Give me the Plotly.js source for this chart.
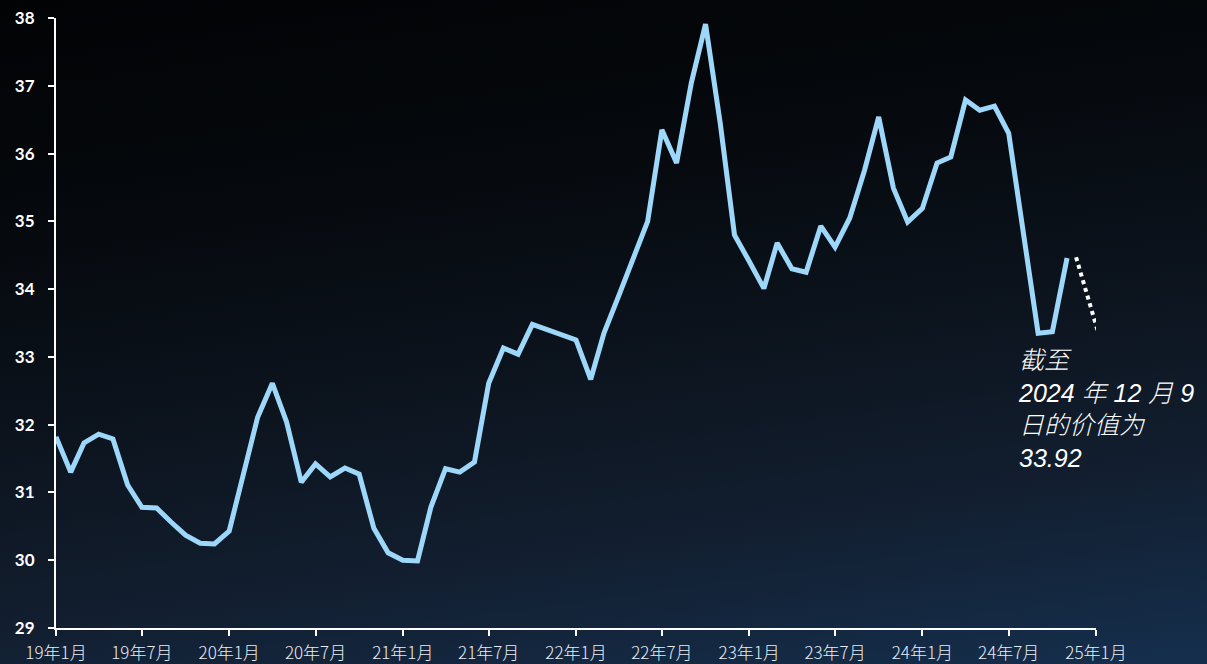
<!DOCTYPE html>
<html>
<head>
<meta charset="utf-8">
<script src="https://cdn.plot.ly/plotly-3.0.1.min.js"></script>
<style>
html, body { margin: 0; padding: 0; width: 1207px; height: 664px; overflow: hidden; }
body { background: linear-gradient(172deg, #020305 0%, #05080c 25%, #0b121b 50%, #121e2f 75%, #152f4d 100%); }
#chart { width: 1207px; height: 664px; }
</style>
</head>
<body>
<div id="chart"></div>
<script>
// Monthly values, Jan 2019 .. Nov 2024
const months = [
  '2019-01-01','2019-02-01','2019-03-01','2019-04-01','2019-05-01','2019-06-01','2019-07-01','2019-08-01','2019-09-01','2019-10-01','2019-11-01','2019-12-01',
  '2020-01-01','2020-02-01','2020-03-01','2020-04-01','2020-05-01','2020-06-01','2020-07-01','2020-08-01','2020-09-01','2020-10-01','2020-11-01','2020-12-01',
  '2021-01-01','2021-02-01','2021-03-01','2021-04-01','2021-05-01','2021-06-01','2021-07-01','2021-08-01','2021-09-01','2021-10-01','2021-11-01','2021-12-01',
  '2022-01-01','2022-02-01','2022-03-01','2022-04-01','2022-05-01','2022-06-01','2022-07-01','2022-08-01','2022-09-01','2022-10-01','2022-11-01','2022-12-01',
  '2023-01-01','2023-02-01','2023-03-01','2023-04-01','2023-05-01','2023-06-01','2023-07-01','2023-08-01','2023-09-01','2023-10-01','2023-11-01','2023-12-01',
  '2024-01-01','2024-02-01','2024-03-01','2024-04-01','2024-05-01','2024-06-01','2024-07-01','2024-08-01','2024-09-01','2024-10-01','2024-11-01'
];
const values = [
  31.82, 31.30, 31.73, 31.86, 31.79, 31.11, 30.78, 30.77, 30.56, 30.37, 30.25, 30.24,
  30.43, 31.33, 32.11, 32.61, 32.04, 31.15, 31.42, 31.23, 31.36, 31.27, 30.47, 30.11,
  30.00, 29.99, 30.78, 31.35, 31.30, 31.45, 32.61, 33.13, 33.04, 33.48, 33.40, 33.33,
  33.25, 32.67, 33.35, 33.90, 34.45, 35.00, 36.35, 35.86, 37.04, 37.91, 36.45, 34.80,
  34.41, 34.01, 34.68, 34.30, 34.25, 34.93, 34.62, 35.05, 35.75, 36.54, 35.49, 34.99,
  35.19, 35.86, 35.95, 36.79, 36.64, 36.70, 36.30, 34.87, 33.35, 33.37, 34.46
];
// dotted continuation
const dotX = ['2024-11-20', '2025-01-09'];
const dotY = [34.47, 33.28];

const tickDates = ['2019-01-01','2019-07-01','2020-01-01','2020-07-01','2021-01-01','2021-07-01','2022-01-01','2022-07-01','2023-01-01','2023-07-01','2024-01-01','2024-07-01','2025-01-01'];
const tickLabels = ['19年1月','19年7月','20年1月','20年7月','21年1月','21年7月','22年1月','22年7月','23年1月','23年7月','24年1月','24年7月','25年1月'];
const yTicks = [29, 30, 31, 32, 33, 34, 35, 36, 37, 38];

const noteText = '截至<br>2024 年 12 月 9<br>日的价值为<br>33.92';
const noteX = '2024-07-17';
const noteY = 33.19;

const traces = [
  {
    x: months, y: values, type: 'scatter', mode: 'lines',
    line: { color: '#9dd8fb', width: 5 },
    hoverinfo: 'skip'
  },
  {
    x: dotX, y: dotY, type: 'scatter', mode: 'lines',
    line: { color: '#ffffff', width: 4, dash: 'dot' },
    hoverinfo: 'skip'
  }
];

const layout = {
  width: 1207, height: 664,
  margin: { l: 56, r: 111, t: 18, b: 36 },
  paper_bgcolor: 'rgba(0,0,0,0)',
  plot_bgcolor: 'rgba(0,0,0,0)',
  showlegend: false,
  xaxis: {
    type: 'date',
    range: ['2019-01-01', '2025-01-01'],
    tickmode: 'array', tickvals: tickDates, ticktext: tickLabels,
    showgrid: false, zeroline: false,
    showline: true, linecolor: '#ffffff', linewidth: 2,
    ticks: 'outside', ticklen: 6, tickwidth: 2, tickcolor: '#ffffff',
    tickfont: { family: '"Noto Sans CJK SC", "Noto Sans", sans-serif', size: 17, color: '#e8edf4', weight: 300 },
    ticklabelstandoff: 3
  },
  yaxis: {
    range: [29, 38],
    tickmode: 'array', tickvals: yTicks,
    showgrid: false, zeroline: false,
    showline: true, linecolor: '#ffffff', linewidth: 2,
    ticks: 'outside', ticklen: 6, tickwidth: 2, tickcolor: '#ffffff',
    tickfont: { family: 'Lato, "Open Sans", sans-serif', size: 17, color: '#ffffff', weight: 'bold' },
    ticklabelstandoff: 10
  },
  annotations: [{
    x: noteX, y: noteY, xref: 'x', yref: 'y',
    text: noteText, showarrow: false,
    xanchor: 'left', yanchor: 'top', align: 'left',
    font: { family: '"Liberation Sans", "Noto Sans CJK SC", sans-serif', size: 25, color: '#ffffff', style: 'italic', weight: 300 }
  }]
};

Plotly.newPlot('chart', traces, layout, { displayModeBar: false, staticPlot: true });
</script>
</body>
</html>
